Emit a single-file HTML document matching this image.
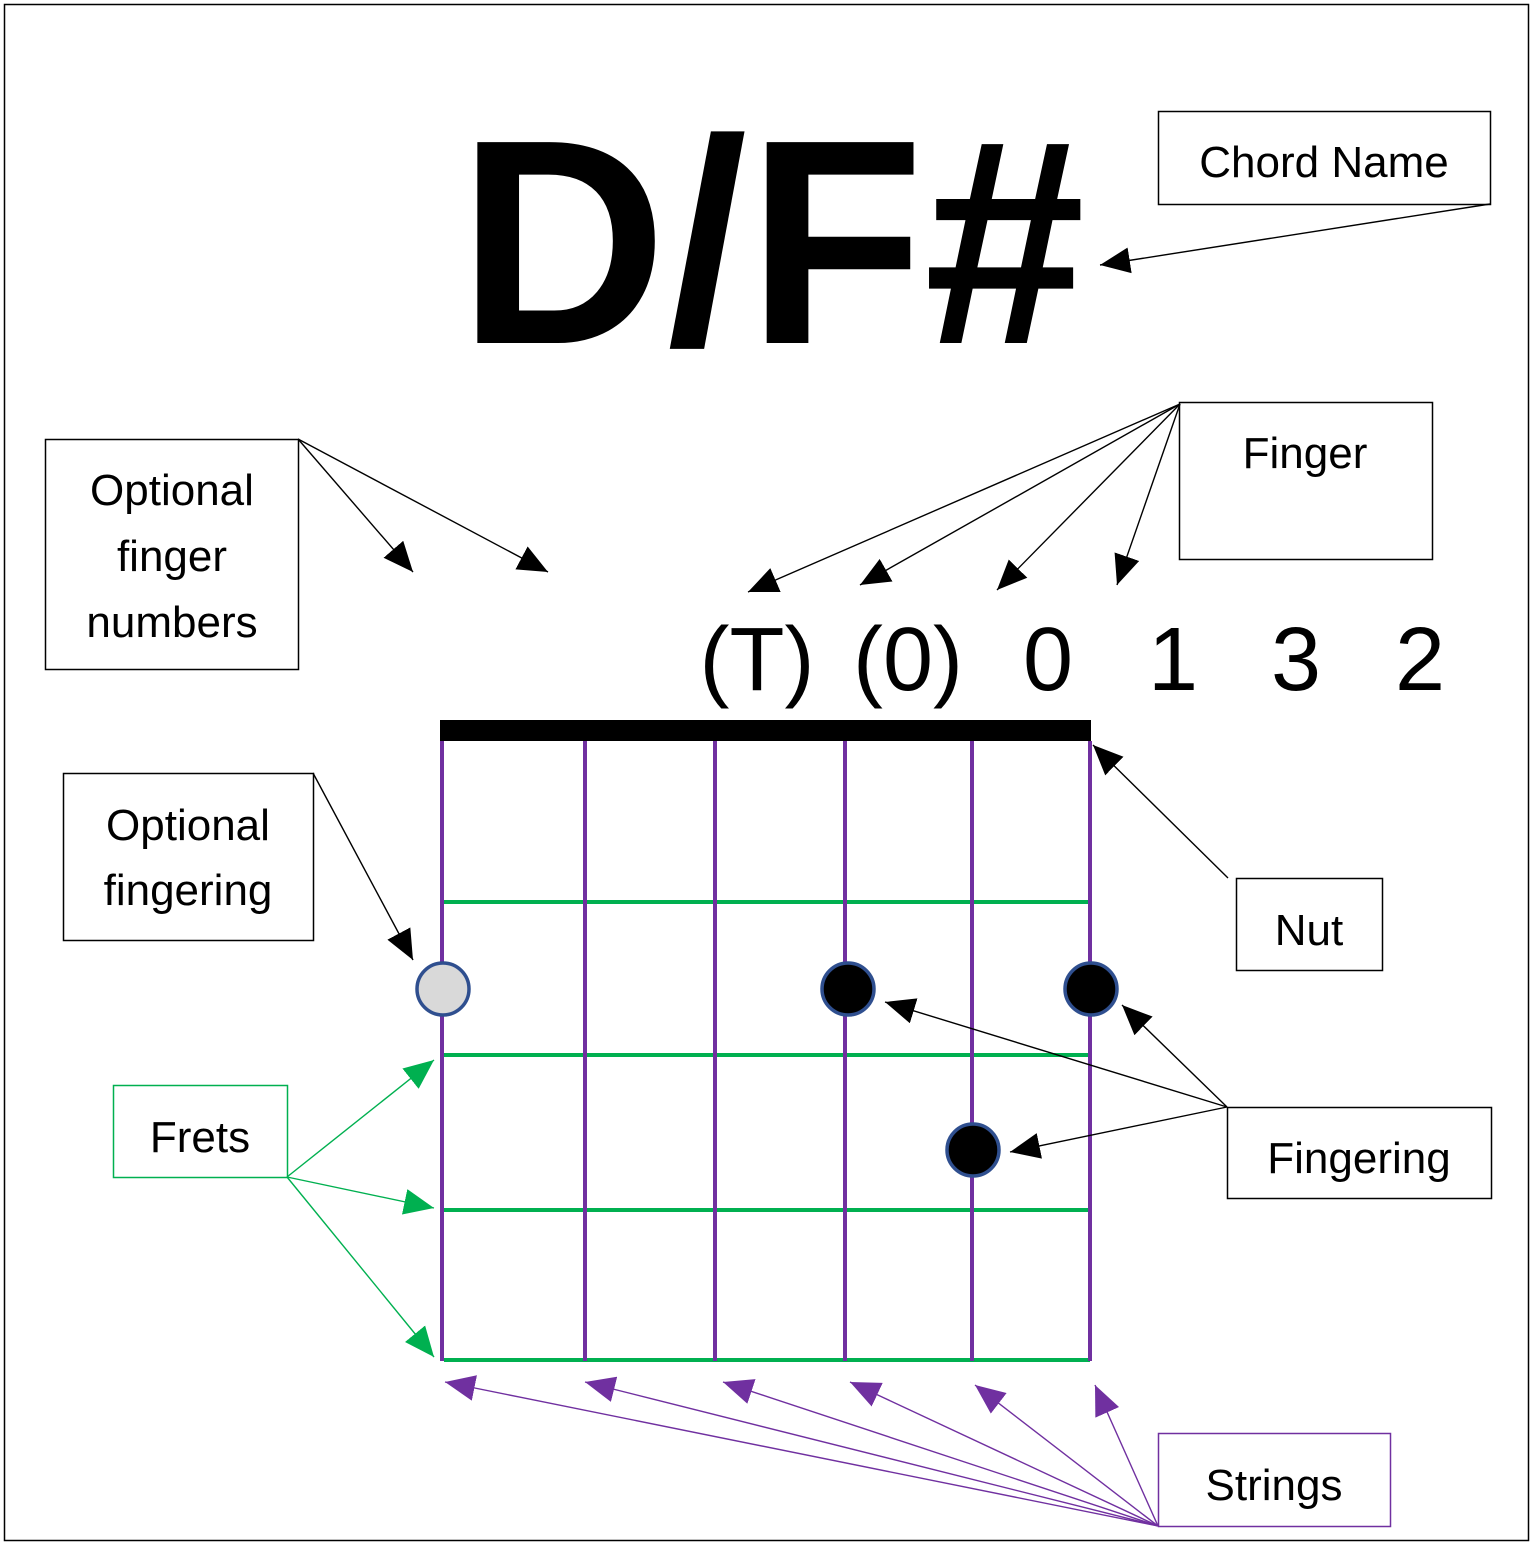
<!DOCTYPE html>
<html><head><meta charset="utf-8"><style>
html,body{margin:0;padding:0;background:#fff;}
svg{display:block;}
text{font-family:"Liberation Sans",sans-serif;}
</style></head><body>
<svg width="1535" height="1549" viewBox="0 0 1535 1549" xmlns="http://www.w3.org/2000/svg">
<defs>
<marker id="ab" markerUnits="userSpaceOnUse" markerWidth="32" markerHeight="26" refX="30" refY="13" orient="auto"><path d="M0,0 L30,13 L0,26 Z" fill="#000"/></marker>
<marker id="ag" markerUnits="userSpaceOnUse" markerWidth="32" markerHeight="26" refX="30" refY="13" orient="auto"><path d="M0,0 L30,13 L0,26 Z" fill="#00b050"/></marker>
<marker id="ap" markerUnits="userSpaceOnUse" markerWidth="32" markerHeight="26" refX="30" refY="13" orient="auto"><path d="M0,0 L30,13 L0,26 Z" fill="#7030a0"/></marker>
</defs>
<rect x="4.5" y="4.5" width="1524" height="1536" fill="#fff" stroke="#000" stroke-width="1.5"/>
<text x="458" y="343" font-size="292" font-weight="bold" fill="#000" textLength="627" lengthAdjust="spacingAndGlyphs">D/F#</text>

<g fill="#fff" stroke="#000" stroke-width="1.5">
<rect x="1158.5" y="111.5" width="332" height="93"/>
<rect x="1179.5" y="402.5" width="253" height="157"/>
<rect x="45.5" y="439.5" width="253" height="230"/>
<rect x="63.5" y="773.5" width="250" height="167"/>
<rect x="1236.5" y="878.5" width="146" height="92"/>
<rect x="1227.5" y="1107.5" width="264" height="91"/>
<rect x="113.5" y="1085.5" width="174" height="92" stroke="#00b050"/>
<rect x="1158.5" y="1433.5" width="232" height="93" stroke="#7030a0"/>
</g>
<g font-size="44" text-anchor="middle" fill="#000">
<text x="1324" y="177">Chord Name</text>
<text x="1305" y="468">Finger</text>
<text x="172" y="505">Optional</text>
<text x="172" y="571">finger</text>
<text x="172" y="637">numbers</text>
<text x="188" y="840">Optional</text>
<text x="188" y="905">fingering</text>
<text x="1309" y="945">Nut</text>
<text x="1359" y="1173">Fingering</text>
<text x="200" y="1152">Frets</text>
<text x="1274" y="1500">Strings</text>
</g>
<g font-size="90" text-anchor="middle" fill="#000">
<text x="757" y="690">(T)</text>
<text x="908" y="690">(0)</text>
<text x="1048" y="690">0</text>
<text x="1173" y="690">1</text>
<text x="1296" y="690">3</text>
<text x="1420" y="690">2</text>
</g>

<rect x="440" y="720" width="651" height="21" fill="#000"/>
<g stroke="#00b050" stroke-width="4">
<line x1="444" y1="902" x2="1090" y2="902"/>
<line x1="444" y1="1055" x2="1090" y2="1055"/>
<line x1="444" y1="1210" x2="1090" y2="1210"/>
<line x1="444" y1="1360" x2="1090" y2="1360"/>
</g>
<g stroke="#7030a0" stroke-width="4">
<line x1="442" y1="741" x2="442" y2="1361"/>
<line x1="585" y1="741" x2="585" y2="1361"/>
<line x1="715" y1="741" x2="715" y2="1361"/>
<line x1="845" y1="741" x2="845" y2="1361"/>
<line x1="972" y1="741" x2="972" y2="1361"/>
<line x1="1090" y1="741" x2="1090" y2="1361"/>
</g>
<g stroke="#2f4f8f" stroke-width="3.5">
<circle cx="443" cy="989" r="26" fill="#d9d9d9"/>
<circle cx="848" cy="989" r="26" fill="#000"/>
<circle cx="1091" cy="989" r="26" fill="#000"/>
<circle cx="973" cy="1150" r="26" fill="#000"/>
</g>

<g stroke="#000" stroke-width="1.4" fill="none" marker-end="url(#ab)">
<line x1="1490" y1="204" x2="1100" y2="265"/>
<line x1="298" y1="439" x2="413" y2="572"/>
<line x1="298" y1="439" x2="548" y2="572"/>
<line x1="1180" y1="404" x2="748" y2="592"/>
<line x1="1180" y1="404" x2="860" y2="585"/>
<line x1="1180" y1="404" x2="997" y2="590"/>
<line x1="1180" y1="404" x2="1117" y2="585"/>
<line x1="1228" y1="878" x2="1093" y2="745"/>
<line x1="313" y1="773" x2="413" y2="960"/>
<line x1="1227" y1="1107" x2="885" y2="1002"/>
<line x1="1227" y1="1107" x2="1122" y2="1005"/>
<line x1="1227" y1="1107" x2="1010" y2="1152"/>
</g>
<g stroke="#00b050" stroke-width="1.4" fill="none" marker-end="url(#ag)">
<line x1="287" y1="1177" x2="434" y2="1060"/>
<line x1="287" y1="1177" x2="434" y2="1208"/>
<line x1="287" y1="1177" x2="434" y2="1357"/>
</g>
<g stroke="#7030a0" stroke-width="1.4" fill="none" marker-end="url(#ap)">
<line x1="1158" y1="1526" x2="445" y2="1382"/>
<line x1="1158" y1="1526" x2="585" y2="1382"/>
<line x1="1158" y1="1526" x2="723" y2="1382"/>
<line x1="1158" y1="1526" x2="850" y2="1382"/>
<line x1="1158" y1="1526" x2="975" y2="1385"/>
<line x1="1158" y1="1526" x2="1095" y2="1385"/>
</g>
</svg>
</body></html>
